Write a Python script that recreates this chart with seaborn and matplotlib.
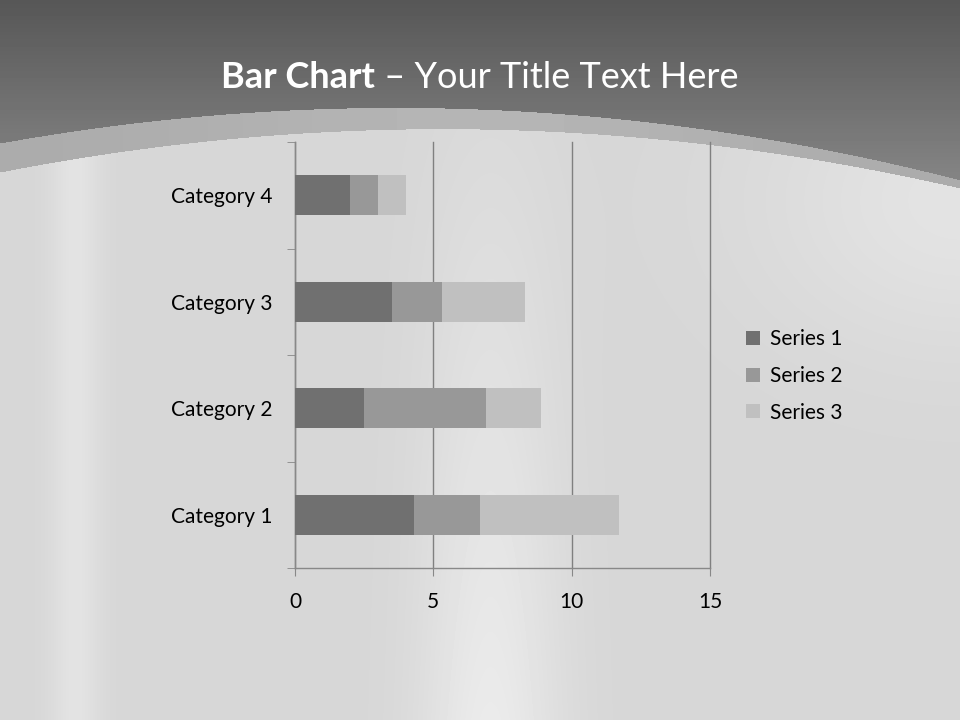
"""
Stacked horizontal bar chart on a brushed-metal slide background
"""

import numpy as np
import pandas as pd
import matplotlib.pyplot as plt
import seaborn as sns

categories = ["Category 1", "Category 2", "Category 3", "Category 4"]
series_names = ["Series 1", "Series 2", "Series 3"]
series_1 = [4.3, 2.5, 3.5, 2.0]
series_2 = [2.4, 4.4, 1.8, 1.0]
series_3 = [5.0, 2.0, 3.0, 1.0]
x_ticks = [0, 5, 10, 15]

colors = ["#707070", "#989898", "#c0c0c0"]
FONT = ["Lato", "DejaVu Sans"]


def draw_background(fig):
    bg = fig.add_axes([0, 0, 1, 1], zorder=-10)
    bg.axis("off")

    # build the slide backdrop as a grey image, one value per pixel
    xx, yy = np.meshgrid(np.arange(960), np.arange(720))
    light = (0.84
             + 0.08 * np.exp(-((xx - 490) / 70) ** 2) * (yy / 720)
             + 0.05 * np.exp(-((xx - 75) / 25) ** 2)
             + 0.05 * np.exp(-((xx - 960) / 200) ** 2) * np.exp(-((yy - 200) / 150) ** 2))
    # curved edges of the header swoosh (pixel rows)
    band_top = 143 - 0.1798 * xx + 2.274e-4 * xx ** 2
    band_bot = 172 - 0.1958 * xx + 2.2135e-4 * xx ** 2
    dark = 0.34 + 0.19 * np.clip(yy / 190, 0, 1)
    band = 0.67 + 0.04 * np.exp(-((xx - 480) / 300) ** 2)

    img = np.where(yy < band_top, dark,
                   np.where(yy < band_bot, band, light))
    bg.imshow(img, cmap="gray", vmin=0, vmax=1, extent=[0, 960, 720, 0],
              aspect="auto", interpolation="bilinear")
    bg.set_xlim(0, 960)
    bg.set_ylim(720, 0)


def main():
    fig = plt.figure(figsize=(9.6, 7.2), dpi=100)
    draw_background(fig)

    ax = fig.add_axes([295 / 960, 1 - 568 / 720, 415 / 960, 426 / 720])
    ax.patch.set_alpha(0)

    data = pd.DataFrame({
        "category": categories,
        "s1": series_1,
        "s2": series_2,
        "s3": series_3,
    })
    data["c1"] = data["s1"]
    data["c2"] = data["c1"] + data["s2"]
    data["c3"] = data["c2"] + data["s3"]
    order = categories[::-1]

    # stacked look: draw cumulative totals from the longest down
    for col, color, name in zip(["c3", "c2", "c1"], colors[::-1], series_names[::-1]):
        sns.barplot(data=data, x=col, y="category", order=order, orient="h",
                    color=color, width=0.375, saturation=1, ax=ax,
                    label=name, zorder=3)

    ax.set_xlim(0, 15)
    ax.set_ylim(3.5, -0.5)
    ax.set_xticks(x_ticks)
    ax.set_xlabel("")
    ax.set_ylabel("")
    ax.grid(axis="x", color="#808080", lw=1, zorder=0)
    for gl in ax.get_xgridlines():
        gl.set_clip_on(False)
    ax.set_axisbelow(True)
    for side in ["top", "right"]:
        ax.spines[side].set_visible(False)
    for side in ["left", "bottom"]:
        ax.spines[side].set_color("#888888")
        ax.spines[side].set_linewidth(1)

    ax.set_yticks([-0.5, 0.5, 1.5, 2.5, 3.5], minor=True)
    ax.tick_params(axis="y", which="major", length=0, pad=16)
    ax.tick_params(axis="y", which="minor", length=6, color="#888888")
    ax.tick_params(axis="x", length=6, color="#888888", pad=11)
    for lbl in ax.get_yticklabels():
        lbl.set_fontfamily(FONT)
        lbl.set_fontsize(15)
    for lbl in ax.get_xticklabels():
        lbl.set_fontfamily(FONT)
        lbl.set_fontsize(15)

    handles, labels = ax.get_legend_handles_labels()
    hmap = dict(zip(labels, handles))
    ax.legend([hmap[n] for n in series_names], series_names,
              loc="center left", bbox_to_anchor=(746 / 960, 1 - 376 / 720),
              bbox_transform=fig.transFigure, frameon=False,
              handlelength=0.65, handleheight=0.65, handletextpad=0.5,
              labelspacing=0.8, borderpad=0, borderaxespad=0,
              prop={"family": FONT, "size": 15})

    # title: bold lead-in plus regular text, centred as one line
    y_title = 1 - 78 / 720
    t1 = fig.text(0, y_title, "Bar Chart", color="white", fontsize=26,
                  fontweight="bold", family=FONT, ha="left", va="center")
    t2 = fig.text(0, y_title, " – Your Title Text Here", color="white",
                  fontsize=26, family=FONT, ha="left", va="center")
    renderer = fig.canvas.get_renderer()
    w1 = t1.get_window_extent(renderer).width / fig.bbox.width
    w2 = t2.get_window_extent(renderer).width / fig.bbox.width
    x0 = 0.5 - (w1 + w2) / 2
    t1.set_x(x0)
    t2.set_x(x0 + w1)

    fig.savefig("out.png", dpi=100)
    plt.close(fig)


if __name__ == "__main__":
    main()
